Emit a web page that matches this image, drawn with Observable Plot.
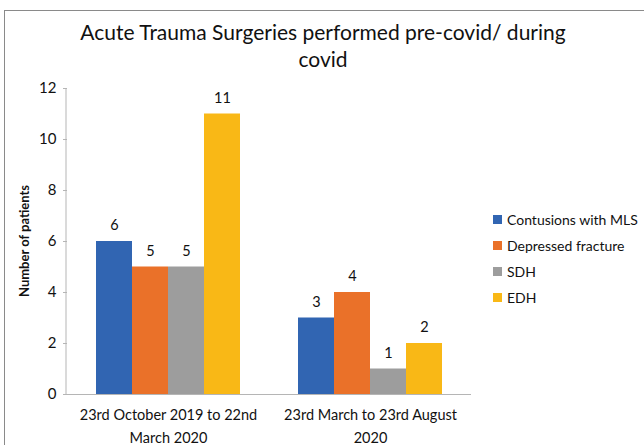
<!DOCTYPE html>
<html>
<head>
<meta charset="utf-8">
<script src="https://cdn.jsdelivr.net/npm/d3@7"></script>
<script src="https://cdn.jsdelivr.net/npm/@observablehq/plot@0.6"></script>
<style>
  html, body { margin: 0; padding: 0; background: #fff; }
  #wrap { position: relative; width: 644px; height: 445px; overflow: hidden; font-family: Lato, "Open Sans", sans-serif; color: #111; }
  #border { position: absolute; left: 4px; top: 10px; width: 700px; height: 500px; border: 1px solid #8a8a8a; box-sizing: border-box; }
  #title { position: absolute; left: 0; top: 18px; width: 646px; text-align: center; font-size: 21px; line-height: 27px; }
  #chart { position: absolute; left: 0; top: 0; }
  #legend { position: absolute; left: 493px; top: 206px; font-size: 14px; }
  #legend .item { height: 26px; display: flex; align-items: center; white-space: nowrap; }
  #legend .sw { width: 9px; height: 9px; margin-right: 5px; }
</style>
</head>
<body>
<div id="wrap">
  <div id="border"></div>
  <div id="chart"></div>
  <div id="title">Acute Trauma Surgeries performed pre-covid/ during<br>covid</div>
  <div id="legend"></div>
</div>
<script>
const periods = ["23rd October 2019 to 22nd\nMarch 2020", "23rd March to 23rd August\n2020"];
const types = ["Contusions with MLS", "Depressed fracture", "SDH", "EDH"];
const colors = ["#3165b2", "#ea7129", "#9d9d9d", "#f9b816"];
const preCovid = [6, 5, 5, 11];
const duringCovid = [3, 4, 1, 2];
const yTicks = [0, 2, 4, 6, 8, 10, 12];

const rows = [];
types.forEach((t, i) => {
  rows.push({period: periods[0], type: t, value: preCovid[i]});
  rows.push({period: periods[1], type: t, value: duringCovid[i]});
});

const chart = Plot.plot({
  width: 644,
  height: 445,
  marginTop: 88,
  marginBottom: 51,
  marginLeft: 66,
  marginRight: 173,
  style: {fontFamily: "Lato, 'Open Sans', sans-serif", fontSize: "14px", color: "#111", background: "transparent"},
  fx: {domain: periods, padding: 0, axis: null},
  x: {domain: types, paddingInner: 0, paddingOuter: 0.75, axis: null},
  y: {domain: [0, 12], axis: null},
  color: {domain: types, range: colors},
  marks: [
    Plot.barY(rows, {fx: "period", x: "type", y: "value", fill: "type"}),
    Plot.ruleY([0], {stroke: "#b5b5b5", strokeWidth: 1}),
    Plot.axisY({ticks: yTicks, tickSize: 4, tickPadding: 7, stroke: "#b5b5b5", strokeOpacity: 1, fontSize: 15, fill: "#111",
      label: null, tickFormat: d => String(d)}),
    Plot.text(rows, {fx: "period", x: "type", y: "value", text: d => String(d.value), dy: -16, fontSize: 14.5, fill: "#111"}),
    Plot.text(periods, {fx: d => d, text: d => d, frameAnchor: "bottom", dy: 10, lineAnchor: "top", fontSize: 14.5, lineHeight: 1.55, fill: "#111"})
  ]
});
document.getElementById("chart").appendChild(chart);

// Y axis line and title, positioned from the plot's own y scale
const svg = d3.select(chart.tagName.toLowerCase() === "svg" ? chart : chart.querySelector("svg"));
const ys = chart.scale("y");
svg.append("line")
  .attr("x1", 66).attr("x2", 66)
  .attr("y1", ys.apply(0)).attr("y2", ys.apply(12))
  .attr("stroke", "#b5b5b5");
svg.append("text")
  .attr("transform", `translate(29,${(ys.apply(0) + ys.apply(12)) / 2}) rotate(-90)`)
  .attr("text-anchor", "middle")
  .attr("font-size", 13)
  .attr("font-weight", "bold")
  .attr("fill", "#111")
  .text("Number of patients");

const legend = document.getElementById("legend");
types.forEach((t, i) => {
  const item = document.createElement("div");
  item.className = "item";
  const sw = document.createElement("div");
  sw.className = "sw";
  sw.style.background = colors[i];
  const lab = document.createElement("span");
  lab.textContent = t;
  item.appendChild(sw);
  item.appendChild(lab);
  legend.appendChild(item);
});
</script>
</body>
</html>
